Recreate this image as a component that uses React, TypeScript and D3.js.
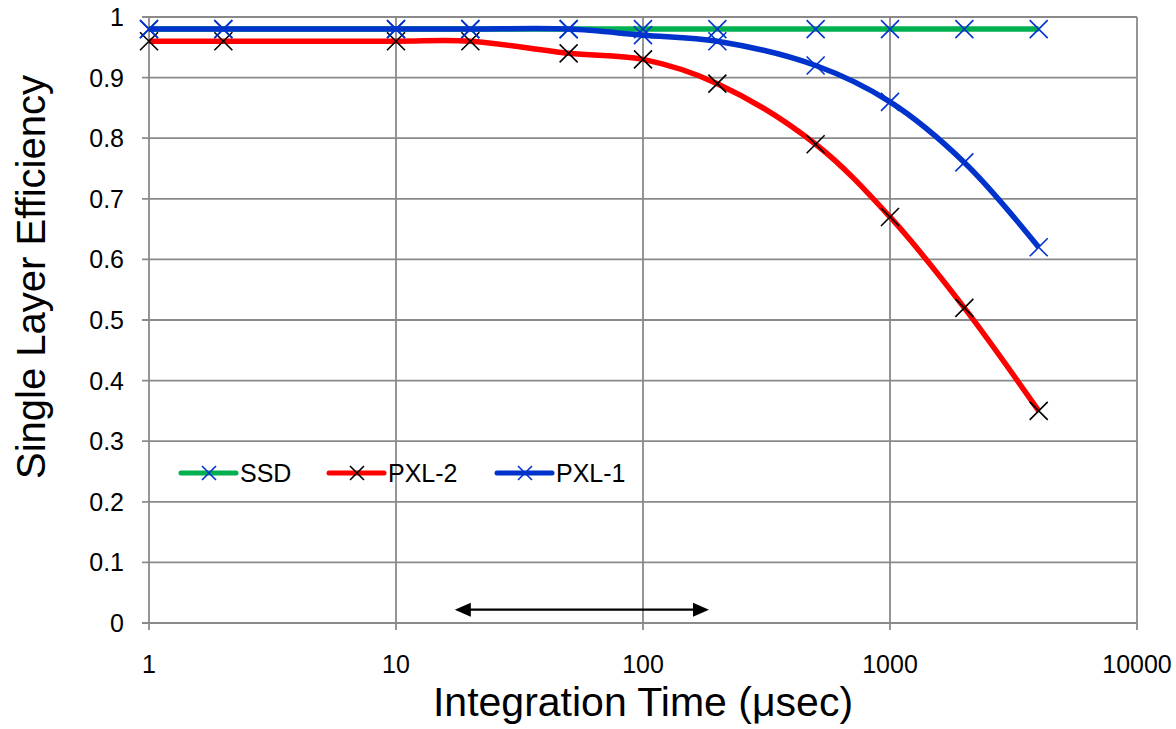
import React from 'react';
import * as d3 from 'd3';

// data
const times = [1, 2, 10, 20, 50, 100, 200, 500, 1000, 2000, 4000];
const ssd = [0.98, 0.98, 0.98, 0.98, 0.98, 0.98, 0.98, 0.98, 0.98, 0.98, 0.98];
const pxl2 = [0.96, 0.96, 0.96, 0.96, 0.94, 0.93, 0.89, 0.79, 0.67, 0.52, 0.35];
const pxl1 = [0.98, 0.98, 0.98, 0.98, 0.98, 0.97, 0.96, 0.92, 0.86, 0.76, 0.62];
const seriesNames = ['SSD', 'PXL-2', 'PXL-1'];
const xTicks = [1, 10, 100, 1000, 10000];
const yTicks = [0, 0.1, 0.2, 0.3, 0.4, 0.5, 0.6, 0.7, 0.8, 0.9, 1];
const arrowRange = [17.3, 185];
const arrowLevel = 0.022;

const W = 1176;
const H = 729;
const margin = { left: 149, right: 39, top: 17, bottom: 106 };
const FONT = '"Liberation Sans", Arial, sans-serif';
const GRID = '#8a8a8a';

const x = d3.scaleLog().domain([1, 10000]).range([margin.left, W - margin.right]);
const y = d3.scaleLinear().domain([0, 1]).range([H - margin.bottom, margin.top]);

const styles = [
  { line: '#00B050', marker: '#0033CC' },
  { line: '#FF0000', marker: '#000000' },
  { line: '#0033CC', marker: '#0033CC' },
];
const seriesValues = [ssd, pxl2, pxl1];

const line = d3
  .line<[number, number]>()
  .x((d) => x(d[0]))
  .y((d) => y(d[1]))
  .curve(d3.curveCatmullRom.alpha(0.5));

function Cross(props: { cx: number; cy: number; r: number; color: string }) {
  const { cx, cy, r, color } = props;
  return (
    <path
      d={`M${cx - r},${cy - r}L${cx + r},${cy + r}M${cx - r},${cy + r}L${cx + r},${cy - r}`}
      stroke={color}
      strokeWidth={1.6}
      fill="none"
    />
  );
}

export default function App() {
  const x0 = x.range()[0];
  const x1 = x.range()[1];
  const y0 = y.range()[0];
  const y1 = y.range()[1];

  const ay = y(arrowLevel);
  const ax0 = x(arrowRange[0]);
  const ax1 = x(arrowRange[1]);

  // legend positions
  const legendY = 473;
  const legendX = [181, 329, 497];

  return (
    <svg
      width={W}
      height={H}
      style={{ position: 'absolute', left: 0, top: 0, background: '#fff' }}
      fontFamily={FONT}
    >
      {/* grid */}
      <g stroke={GRID} strokeWidth={1.8}>
        {yTicks.map((t) => (
          <line key={'h' + t} x1={x0 - 7} x2={x1} y1={y(t)} y2={y(t)} />
        ))}
        {xTicks.map((t) => (
          <line key={'v' + t} x1={x(t)} x2={x(t)} y1={y1} y2={y0 + 7} />
        ))}
      </g>

      {/* y tick labels */}
      <g fontSize={25} fill="#000" textAnchor="end">
        {yTicks.map((t) => (
          <text key={t} x={x0 - 25} y={y(t)} dy="0.36em">
            {d3.format('')(+t.toFixed(1))}
          </text>
        ))}
      </g>

      {/* x tick labels */}
      <g fontSize={25} fill="#000" textAnchor="middle">
        {xTicks.map((t) => (
          <text key={t} x={x(t)} y={673}>
            {t}
          </text>
        ))}
      </g>

      {/* axis titles */}
      <text x={(x0 + x1) / 2} y={716} fontSize={41} textAnchor="middle">
        Integration Time (μsec)
      </text>
      <text
        transform={`translate(45, 277) rotate(-90)`}
        fontSize={40}
        textAnchor="middle"
      >
        Single Layer Efficiency
      </text>

      {/* series */}
      {seriesValues.map((vals, i) => {
        const pts = times.map((t, j) => [t, vals[j]] as [number, number]);
        return (
          <g key={seriesNames[i]}>
            <path d={line(pts) || ''} fill="none" stroke={styles[i].line} strokeWidth={5.5} />
            {pts.map((p, j) => (
              <Cross key={j} cx={x(p[0])} cy={y(p[1])} r={9} color={styles[i].marker} />
            ))}
          </g>
        );
      })}

      {/* legend */}
      {seriesNames.map((name, i) => (
        <g key={name}>
          <line
            x1={legendX[i]}
            x2={legendX[i] + 55}
            y1={legendY}
            y2={legendY}
            stroke={styles[i].line}
            strokeWidth={5}
            strokeLinecap="round"
          />
          <Cross cx={legendX[i] + 28} cy={legendY} r={7} color={styles[i].marker} />
          <text x={legendX[i] + 59} y={legendY} dy="0.36em" fontSize={25}>
            {name}
          </text>
        </g>
      ))}

      {/* double arrow */}
      <g>
        <line x1={ax0 + 12} x2={ax1 - 12} y1={ay} y2={ay} stroke="#000" strokeWidth={2.2} />
        <path d={`M${ax0},${ay}L${ax0 + 16},${ay - 7}L${ax0 + 16},${ay + 7}Z`} fill="#000" />
        <path d={`M${ax1},${ay}L${ax1 - 16},${ay - 7}L${ax1 - 16},${ay + 7}Z`} fill="#000" />
      </g>
    </svg>
  );
}
